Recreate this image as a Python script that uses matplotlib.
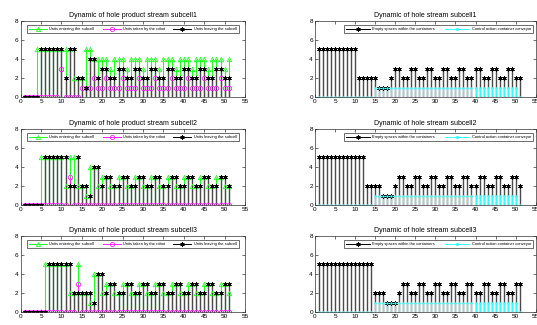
import numpy as np
import matplotlib
matplotlib.use("Agg")
import matplotlib.pyplot as plt
from matplotlib.lines import Line2D

plt.rcParams['font.family'] = ['Liberation Sans', 'DejaVu Sans']

t = np.arange(1, 52)

# ---- product stream, subcell 1 ----
enter1 = [0, 0, 0, 5, 5, 5, 5, 5, 5, 5, 5, 5, 2, 2, 2, 5, 5, 4,
          4, 4, 4, 3, 4, 4, 4, 3, 4, 4, 4, 3, 4, 4, 4, 3, 4, 4, 4, 3,
          4, 4, 4, 3, 4, 4, 4, 3, 4, 4, 4, 3, 4]
robot1 = [0, 0, 0, 0, 0, 0, 0, 0, 0, 3, 0, 0, 0, 0, 1, 1, 1, 2,
          1, 1, 2, 1, 1, 1, 2, 1, 1, 1, 2, 1, 1, 1, 2, 1, 1, 1, 2, 1,
          1, 1, 2, 1, 1, 1, 2, 1, 1, 1, 2, 1, 1]
leave1 = [0, 0, 0, 0, 5, 5, 5, 5, 5, 5, 2, 5, 5, 2, 2, 1, 4, 4,
          2, 3, 3, 2, 2, 3, 3, 2, 2, 3, 3, 2, 2, 3, 3, 2, 2, 3, 3, 2,
          2, 3, 3, 2, 2, 3, 3, 2, 2, 3, 3, 2, 2]

# ---- product stream, subcell 2 ----
enter2 = [0, 0, 0, 0, 5, 5, 5, 5, 5, 5, 2, 5, 5, 2, 2, 1, 4, 4,
          2, 3, 3, 2, 2, 3, 3, 2, 2, 3, 3, 2, 2, 3, 3, 2, 2, 3, 3, 2,
          2, 3, 3, 2, 2, 3, 3, 2, 2, 3, 3, 2, 2]
robot2 = [0] * 11 + [3] + [0] * 39
leave2 = [0, 0, 0, 0, 0, 5, 5, 5, 5, 5, 5, 2, 2, 5, 2, 2, 1, 4,
          4, 2, 3, 3, 2, 2, 3, 3, 2, 2, 3, 3, 2, 2, 3, 3, 2, 2, 3, 3,
          2, 2, 3, 3, 2, 2, 3, 3, 2, 2, 3, 3, 2]

# ---- product stream, subcell 3 ----
enter3 = [0, 0, 0, 0, 0, 5, 5, 5, 5, 5, 5, 2, 2, 5, 2, 2, 1, 4,
          4, 2, 3, 3, 2, 2, 3, 3, 2, 2, 3, 3, 2, 2, 3, 3, 2, 2, 3, 3,
          2, 2, 3, 3, 2, 2, 3, 3, 2, 2, 3, 3, 2]
robot3 = [0] * 13 + [3] + [0] * 37
leave3 = [0, 0, 0, 0, 0, 0, 5, 5, 5, 5, 5, 5, 2, 2, 2, 2, 2, 1,
          4, 4, 2, 3, 3, 2, 2, 3, 3, 2, 2, 3, 3, 2, 2, 3, 3, 2, 2, 3,
          3, 2, 2, 3, 3, 2, 2, 3, 3, 2, 2, 3, 3]

# ---- container stream (empty spaces / conveyor control) ----
empty1 = [5] * 10 + [2] * 5 + [1] * 3 + [2] + [3, 3, 2, 2] * 8
empty2 = [5] * 12 + [2] * 4 + [1] * 3 + [2] + [3, 3, 2, 2] * 7 + [3, 3, 2]
empty3 = [5] * 14 + [2] * 3 + [1] * 3 + [2] + [3, 3, 2, 2] * 7 + [3, 3]
conv1 = [0] * 14 + [1] * 36 + [0]
conv2 = [0] * 14 + [1] * 36 + [0]
conv3 = [0] * 14 + [1] * 36 + [0]

left_titles = ["Dynamic of hole product stream subcell1",
               "Dynamic of hole product stream subcell2",
               "Dynamic of hole product stream subcell3"]
right_titles = ["Dynamic of hole stream subcell1",
                "Dynamic of hole stream subcell2",
                "Dynamic of hole stream subcell3"]
left_labels = ["Units entering the subcell", "Units taken by the robot",
               "Units leaving the subcell"]
right_labels = ["Empty spaces within the containers",
                "Control action container conveyor"]

GREEN = "#22ff22"
MAGENTA = "#ff22ff"
CYAN = "#33ffff"
BLACK = "#000000"
STEM_DARK = "#4a4a4a"

FS_TICK = 4.6
FS_TITLE = 5.0
FS_LEG = 2.9


def stem(ax, x, y, color, marker, ms, stem_color=None, filled=False,
         lw=0.8, zorder=2):
    y = np.asarray(y, dtype=float)
    ax.vlines(x, 0, y, colors=stem_color or color, lw=lw, zorder=zorder)
    ax.plot(x, y, ls='none', marker=marker, ms=ms,
            mec=color, mfc=color if filled else 'none', mew=0.6,
            zorder=zorder + 0.5)


def style(ax, title):
    ax.set_xlim(0, 55)
    ax.set_ylim(0, 8)
    ax.set_xticks(np.arange(0, 56, 5))
    ax.set_yticks(np.arange(0, 9, 2))
    ax.tick_params(direction='in', length=2, width=0.4, labelsize=FS_TICK,
                   top=True, right=True, pad=1.5)
    for s in ax.spines.values():
        s.set_linewidth(0.5)
        s.set_color('#333333')
    ax.set_title(title, fontsize=FS_TITLE, pad=3)


fig = plt.figure(figsize=(5.37, 3.25), dpi=100)
W, H = 537.0, 325.0
rows = [(20.7, 97.3), (128.7, 205.3), (235.7, 312.3)]
left_x = (20.7, 245.0)
right_x = (315.0, 535.7)

product = [(enter1, robot1, leave1), (enter2, robot2, leave2),
           (enter3, robot3, leave3)]
containers = [(empty1, conv1), (empty2, conv2), (empty3, conv3)]

star = (6, 2, 0)

for i, (top, bot) in enumerate(rows):
    rect_y = 1 - bot / H
    rect_h = (bot - top) / H
    # product stream panel
    axl = fig.add_axes([left_x[0] / W, rect_y, (left_x[1] - left_x[0]) / W, rect_h])
    ent, rob, lev = product[i]
    stem(axl, t, ent, GREEN, '^', 3.2, lw=0.8)
    stem(axl, t, rob, MAGENTA, 'o', 3.2, lw=0.8)
    stem(axl, t, lev, BLACK, star, 3.2, stem_color=STEM_DARK, filled=True, lw=1.0)
    style(axl, left_titles[i])
    hl = [Line2D([], [], color=GREEN, lw=0.7, marker='^', ms=3, mfc='none', mew=0.6),
          Line2D([], [], color=MAGENTA, lw=0.7, marker='o', ms=3, mfc='none', mew=0.6),
          Line2D([], [], color=BLACK, lw=0.7, marker=star, ms=3, mew=0.6)]
    leg = axl.legend(hl, left_labels, loc='upper center', ncol=3,
                     bbox_to_anchor=(0.5, 0.97), fontsize=FS_LEG, frameon=True,
                     fancybox=False, edgecolor='black', handlelength=4.5,
                     columnspacing=2.0, borderpad=0.5, handletextpad=0.6,
                     numpoints=1)
    leg.get_frame().set_linewidth(0.5)

    # container stream panel
    axr = fig.add_axes([right_x[0] / W, rect_y, (right_x[1] - right_x[0]) / W, rect_h])
    emp, con = containers[i]
    stem(axr, t, emp, BLACK, star, 3.2, stem_color=STEM_DARK, filled=True, lw=1.0)
    stem(axr, t, con, CYAN, '.', 2.2, filled=True, lw=0.8)
    style(axr, right_titles[i])
    hr = [Line2D([], [], color=BLACK, lw=0.7, marker=star, ms=3, mew=0.6),
          Line2D([], [], color=CYAN, lw=0.7, marker='.', ms=2.5)]
    leg = axr.legend(hr, right_labels, loc='upper center', ncol=2,
                     bbox_to_anchor=(0.56, 0.97), fontsize=FS_LEG, frameon=True,
                     fancybox=False, edgecolor='black', handlelength=6,
                     columnspacing=2.5, borderpad=0.5, handletextpad=0.6,
                     numpoints=1)
    leg.get_frame().set_linewidth(0.5)

fig.savefig("out.png", dpi=100)
